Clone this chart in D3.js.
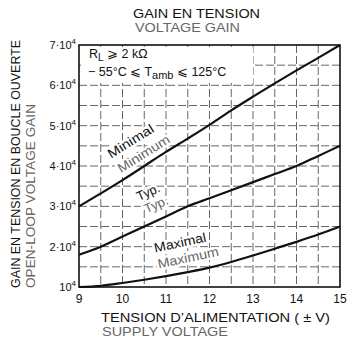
<!DOCTYPE html>
<html>
<head>
  <meta charset="utf8">
  <title>Gain en tension</title>
  <style>
  * { margin: 0; padding: 0; }
  body { background: #fff; }
  text { font-family: "Liberation Sans", Arial, sans-serif; }
  .curve { fill: none; stroke: #111; stroke-width: 2.2px; }
  .fr { fill: #111; }
  .en { fill: #666; }
  .halo { stroke: #fff; stroke-width: 5px; paint-order: stroke; stroke-linejoin: round; }
  </style>
</head>
<body>
<script src="https://cdn.jsdelivr.net/npm/d3@7"></script>
<script>

// supply voltage (±V)
var volts = [9, 9.5, 10, 10.5, 11, 11.5, 12, 12.5, 13, 13.5, 14, 14.5, 15]
// open-loop gain
var gainMin = [30000, 33200, 36500, 40000, 43500, 46800, 50200, 53800, 57200, 60500, 63700, 66800, 70000]
var gainTyp = [18000, 20000, 22500, 25000, 27500, 30000, 32000, 34000, 36000, 38000, 40000, 42500, 45000]
var gainMax = [10000, 10300, 11000, 11800, 12700, 13700, 14800, 16200, 17800, 19500, 21200, 23000, 25000]

var xTicks = [9, 10, 11, 12, 13, 14, 15]
var yTicks = [10000, 20000, 30000, 40000, 50000, 60000, 70000]
var yTickLabels = ['10', '2·10', '3·10', '4·10', '5·10', '6·10', '7·10']

var W = 348, H = 344
var x = d3.scaleLinear().domain([9, 15]).range([79, 340])
var y = d3.scaleLinear().domain([10000, 70000]).range([287, 45])

var svg = d3.select('body').append('svg')
  .attr('width', W).attr('height', H)
  .attr('viewBox', `0 0 ${W} ${H}`)

// grid every 0.5 V and every 5000
var grid = svg.append('g')
  .attr('stroke', '#555')
  .attr('stroke-width', 0.9)
  .attr('stroke-dasharray', '8 3')
grid.selectAll('line.vx')
  .data(d3.range(9.5, 15, 0.5))
  .enter().append('line')
  .attr('class', 'vx')
  .attr('x1', d => x(d)).attr('x2', d => x(d))
  .attr('y1', y(70000)).attr('y2', y(10000))
grid.selectAll('line.hy')
  .data(d3.range(15000, 70000, 5000))
  .enter().append('line')
  .attr('class', 'hy')
  .attr('x1', x(9)).attr('x2', x(15))
  .attr('y1', d => y(d)).attr('y2', d => y(d))

// conditions text, on a white patch over the grid
svg.append('rect')
  .attr('x', x(9) + 2).attr('y', y(70000) + 2)
  .attr('width', 172).attr('height', 36).attr('fill', '#fff')
var c1 = svg.append('text').attr('class', 'fr')
  .attr('x', 89).attr('y', 58).style('font-size', '12.5px')
c1.append('tspan').text('R')
c1.append('tspan').attr('dy', 3).style('font-size', '10px').text('L')
c1.append('tspan').attr('dy', -3).text(' \u2a7e 2 k\u03a9')
var c2 = svg.append('text').attr('class', 'fr')
  .attr('x', 88).attr('y', 76).style('font-size', '12.5px')
c2.append('tspan').text('\u2212 55\u00b0C \u2a7d T')
c2.append('tspan').attr('dy', 3).style('font-size', '11px').text('amb')
c2.append('tspan').attr('dy', -3).text(' \u2a7d 125\u00b0C')

// curve labels (white halo clears the grid behind them)
function label(txt, cls, cx, cy, ang, len) {
  svg.append('text').attr('class', cls + ' halo')
    .attr('transform', `translate(${cx},${cy}) rotate(${ang})`)
    .attr('text-anchor', 'middle')
    .attr('textLength', len).attr('lengthAdjust', 'spacingAndGlyphs')
    .style('font-size', '13px')
    .text(txt)
}
label('Minimal', 'fr', 133, 145, -32, 52)
label('Minimum', 'en', 146, 157.5, -32, 59)
label('Typ.', 'fr', 150, 196, -24, 24)
label('Typ.', 'en', 158, 208.5, -24, 25)
label('Maximal', 'fr', 181, 247, -12, 53)
label('Maximum', 'en', 189, 262, -12, 62)

// frame
svg.append('rect')
  .attr('x', x(9)).attr('y', y(70000))
  .attr('width', x(15) - x(9)).attr('height', y(10000) - y(70000))
  .attr('fill', 'none').attr('stroke', '#111').attr('stroke-width', 1.6)

// curves
var line = d3.line()
  .x((d, i) => x(volts[i]))
  .y(d => y(d))
  .curve(d3.curveMonotoneX)

;[gainMin, gainTyp, gainMax].forEach(s => {
  svg.append('path').attr('class', 'curve').attr('d', line(s))
})

// x axis labels
svg.selectAll('.xt')
  .data(xTicks)
  .enter().append('text')
  .attr('class', 'fr')
  .attr('x', d => x(d)).attr('y', 303)
  .attr('text-anchor', 'middle')
  .style('font-size', '12px')
  .text(d => d)

// y axis labels with superscript 4
var yl = svg.selectAll('.yt')
  .data(yTicks)
  .enter().append('text')
  .attr('class', 'fr')
  .attr('x', 76).attr('y', d => y(d) + 4)
  .attr('text-anchor', 'end')
  .style('font-size', '11px')
yl.append('tspan').text((d, i) => yTickLabels[i])
yl.append('tspan').attr('dy', -5).style('font-size', '8px').text('4')

// titles
svg.append('text').attr('class', 'fr')
  .attr('x', 133).attr('y', 18)
  .attr('textLength', 127).attr('lengthAdjust', 'spacingAndGlyphs')
  .style('font-size', '13px').text('GAIN EN TENSION')
svg.append('text').attr('class', 'en')
  .attr('x', 135).attr('y', 32)
  .attr('textLength', 105).attr('lengthAdjust', 'spacingAndGlyphs')
  .style('font-size', '12px').text('VOLTAGE GAIN')

svg.append('text').attr('class', 'fr')
  .attr('x', 101).attr('y', 322)
  .attr('textLength', 229).attr('lengthAdjust', 'spacingAndGlyphs')
  .style('font-size', '12.5px').text('TENSION D\u2019ALIMENTATION ( \u00b1 V)')
svg.append('text').attr('class', 'en')
  .attr('x', 102).attr('y', 336)
  .attr('textLength', 126).attr('lengthAdjust', 'spacingAndGlyphs')
  .style('font-size', '12.5px').text('SUPPLY VOLTAGE')

svg.append('text').attr('class', 'fr')
  .attr('transform', 'translate(20,288) rotate(-90)')
  .attr('textLength', 248).attr('lengthAdjust', 'spacingAndGlyphs')
  .style('font-size', '12.5px').text('GAIN EN TENSION EN BOUCLE OUVERTE')
svg.append('text').attr('class', 'en')
  .attr('transform', 'translate(35,288) rotate(-90)')
  .attr('textLength', 184).attr('lengthAdjust', 'spacingAndGlyphs')
  .style('font-size', '12.5px').text('OPEN-LOOP VOLTAGE GAIN')

</script>
</body>
</html>
